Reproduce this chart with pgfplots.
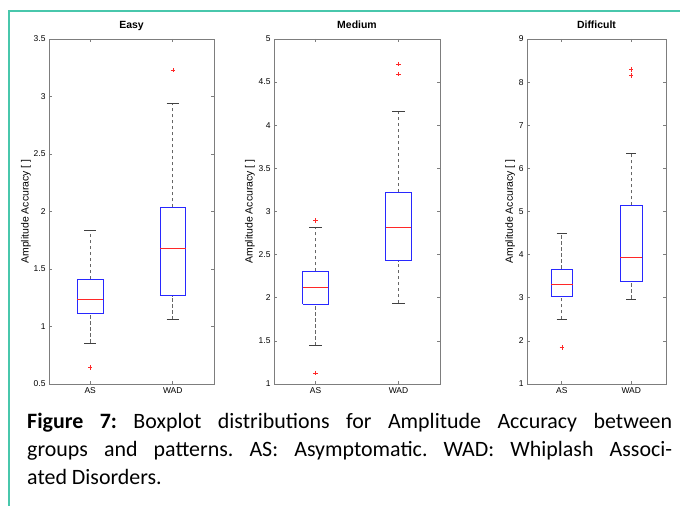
\documentclass[border=0pt]{standalone}
\usepackage{fontspec}
\setmainfont{Carlito}
\newfontfamily\axisfont{Liberation Sans}
\usepackage{pgfplots}
\pgfplotsset{compat=1.18}

\definecolor{frameteal}{RGB}{72,199,172}
\definecolor{axgray}{RGB}{125,125,125}
\definecolor{boxblue}{RGB}{40,40,255}
\definecolor{medred}{RGB}{255,40,40}

\pgfplotsset{
  mbox/.style={
    scale only axis, height=345bp,
    xmin=0.5, xmax=2.5, xtick={1,2}, xticklabels={AS,WAD},
    tick align=inside, tick pos=both, major tick length=3bp,
    axis line style={draw=axgray, line width=0.7pt},
    every tick/.style={draw=axgray, line width=0.6pt},
    /pgf/number format/assume math mode=true,
    tick label style={font=\axisfont\fontsize{8.5}{9}\selectfont},
    ylabel={Amplitude Accuracy [ ]},
    ylabel style={font=\axisfont\fontsize{10.5}{12}\selectfont, anchor=center},
    title style={font=\axisfont\bfseries\fontsize{10.5}{12}\selectfont, at={(0.5,1)}, anchor=base, yshift=5bp},
  },
  bbox/.style={draw=boxblue, line width=0.8pt, mark=none},
  bmed/.style={draw=medred, line width=0.6pt, mark=none},
  bwhisk/.style={draw=black!60, dash pattern=on 3.5bp off 2.5bp, line width=0.7pt, mark=none},
  bcap/.style={draw=black!75, line width=0.8pt, mark=none},
  bout/.style={draw=medred, only marks, mark=+, mark size=2.2bp, mark options={draw=medred, solid, line width=0.5pt}},
}

% #1 lower whisker, #2 lower quartile, #3 median, #4 upper quartile, #5 upper whisker
\newcommand\boxAS[5]{%
  \addplot[bwhisk] coordinates {(1,#1) (1,#2)};
  \addplot[bwhisk] coordinates {(1,#4) (1,#5)};
  \addplot[bcap] coordinates {(0.925,#1) (1.075,#1)};
  \addplot[bcap] coordinates {(0.925,#5) (1.075,#5)};
  \addplot[bbox] coordinates {(0.845,#2) (1.155,#2) (1.155,#4) (0.845,#4) (0.845,#2)};
  \addplot[bmed] coordinates {(0.845,#3) (1.155,#3)};
}
\newcommand\boxWAD[5]{%
  \addplot[bwhisk] coordinates {(2,#1) (2,#2)};
  \addplot[bwhisk] coordinates {(2,#4) (2,#5)};
  \addplot[bcap] coordinates {(1.925,#1) (2.075,#1)};
  \addplot[bcap] coordinates {(1.925,#5) (2.075,#5)};
  \addplot[bbox] coordinates {(1.845,#2) (2.155,#2) (2.155,#4) (1.845,#4) (1.845,#2)};
  \addplot[bmed] coordinates {(1.845,#3) (2.155,#3)};
}

\begin{document}
\frenchspacing
\begin{tikzpicture}
\path[use as bounding box] (0,0) rectangle (680bp,506bp);
\draw[draw=frameteal, line width=2bp] (9bp,0) -- (9bp,495bp) -- (680bp,495bp);

% Easy
\begin{axis}[mbox, width=165bp, at={(49bp,122bp)}, anchor=south west,
  title={Easy}, ymin=0.5, ymax=3.5, ytick={0.5,1,...,3.5},
  ylabel style={at={(axis description cs:-0.14,0.5)}}]
\boxAS{0.857}{1.117}{1.233}{1.413}{1.839}
\boxWAD{1.059}{1.268}{1.677}{2.036}{2.941}
\addplot[bout] coordinates {(1,0.642) (2,3.228)};
\end{axis}

% Medium
\begin{axis}[mbox, width=166bp, at={(274bp,122bp)}, anchor=south west,
  title={Medium}, ymin=1, ymax=5, ytick={1,1.5,...,5},
  ylabel style={at={(axis description cs:-0.145,0.5)}}]
\boxAS{1.444}{1.928}{2.125}{2.306}{2.816}
\boxWAD{1.939}{2.430}{2.820}{3.226}{4.161}
\addplot[bout] coordinates {(1,2.894) (1,1.128) (2,4.710) (2,4.594)};
\end{axis}

% Difficult
\begin{axis}[mbox, width=139bp, at={(527bp,122bp)}, anchor=south west,
  title={Difficult}, ymin=1, ymax=9, ytick={1,2,...,9},
  ylabel style={at={(axis description cs:-0.122,0.5)}}]
\boxAS{2.501}{3.042}{3.312}{3.668}{4.494}
\boxWAD{2.972}{3.389}{3.930}{5.144}{6.349}
\addplot[bout] coordinates {(1,1.844) (2,8.289) (2,8.150)};
\end{axis}

\node[anchor=north west, inner sep=0pt, text width=645bp, align=justify,
  font=\fontsize{22}{28.5}\selectfont] at (27bp,93.5bp)
  {\textbf{Figure 7:} Boxplot distributions for Amplitude Accuracy between\linebreak
   groups and patterns. AS: Asymptomatic. WAD: Whiplash Associ-\linebreak
   ated Disorders.};
\end{tikzpicture}
\end{document}
